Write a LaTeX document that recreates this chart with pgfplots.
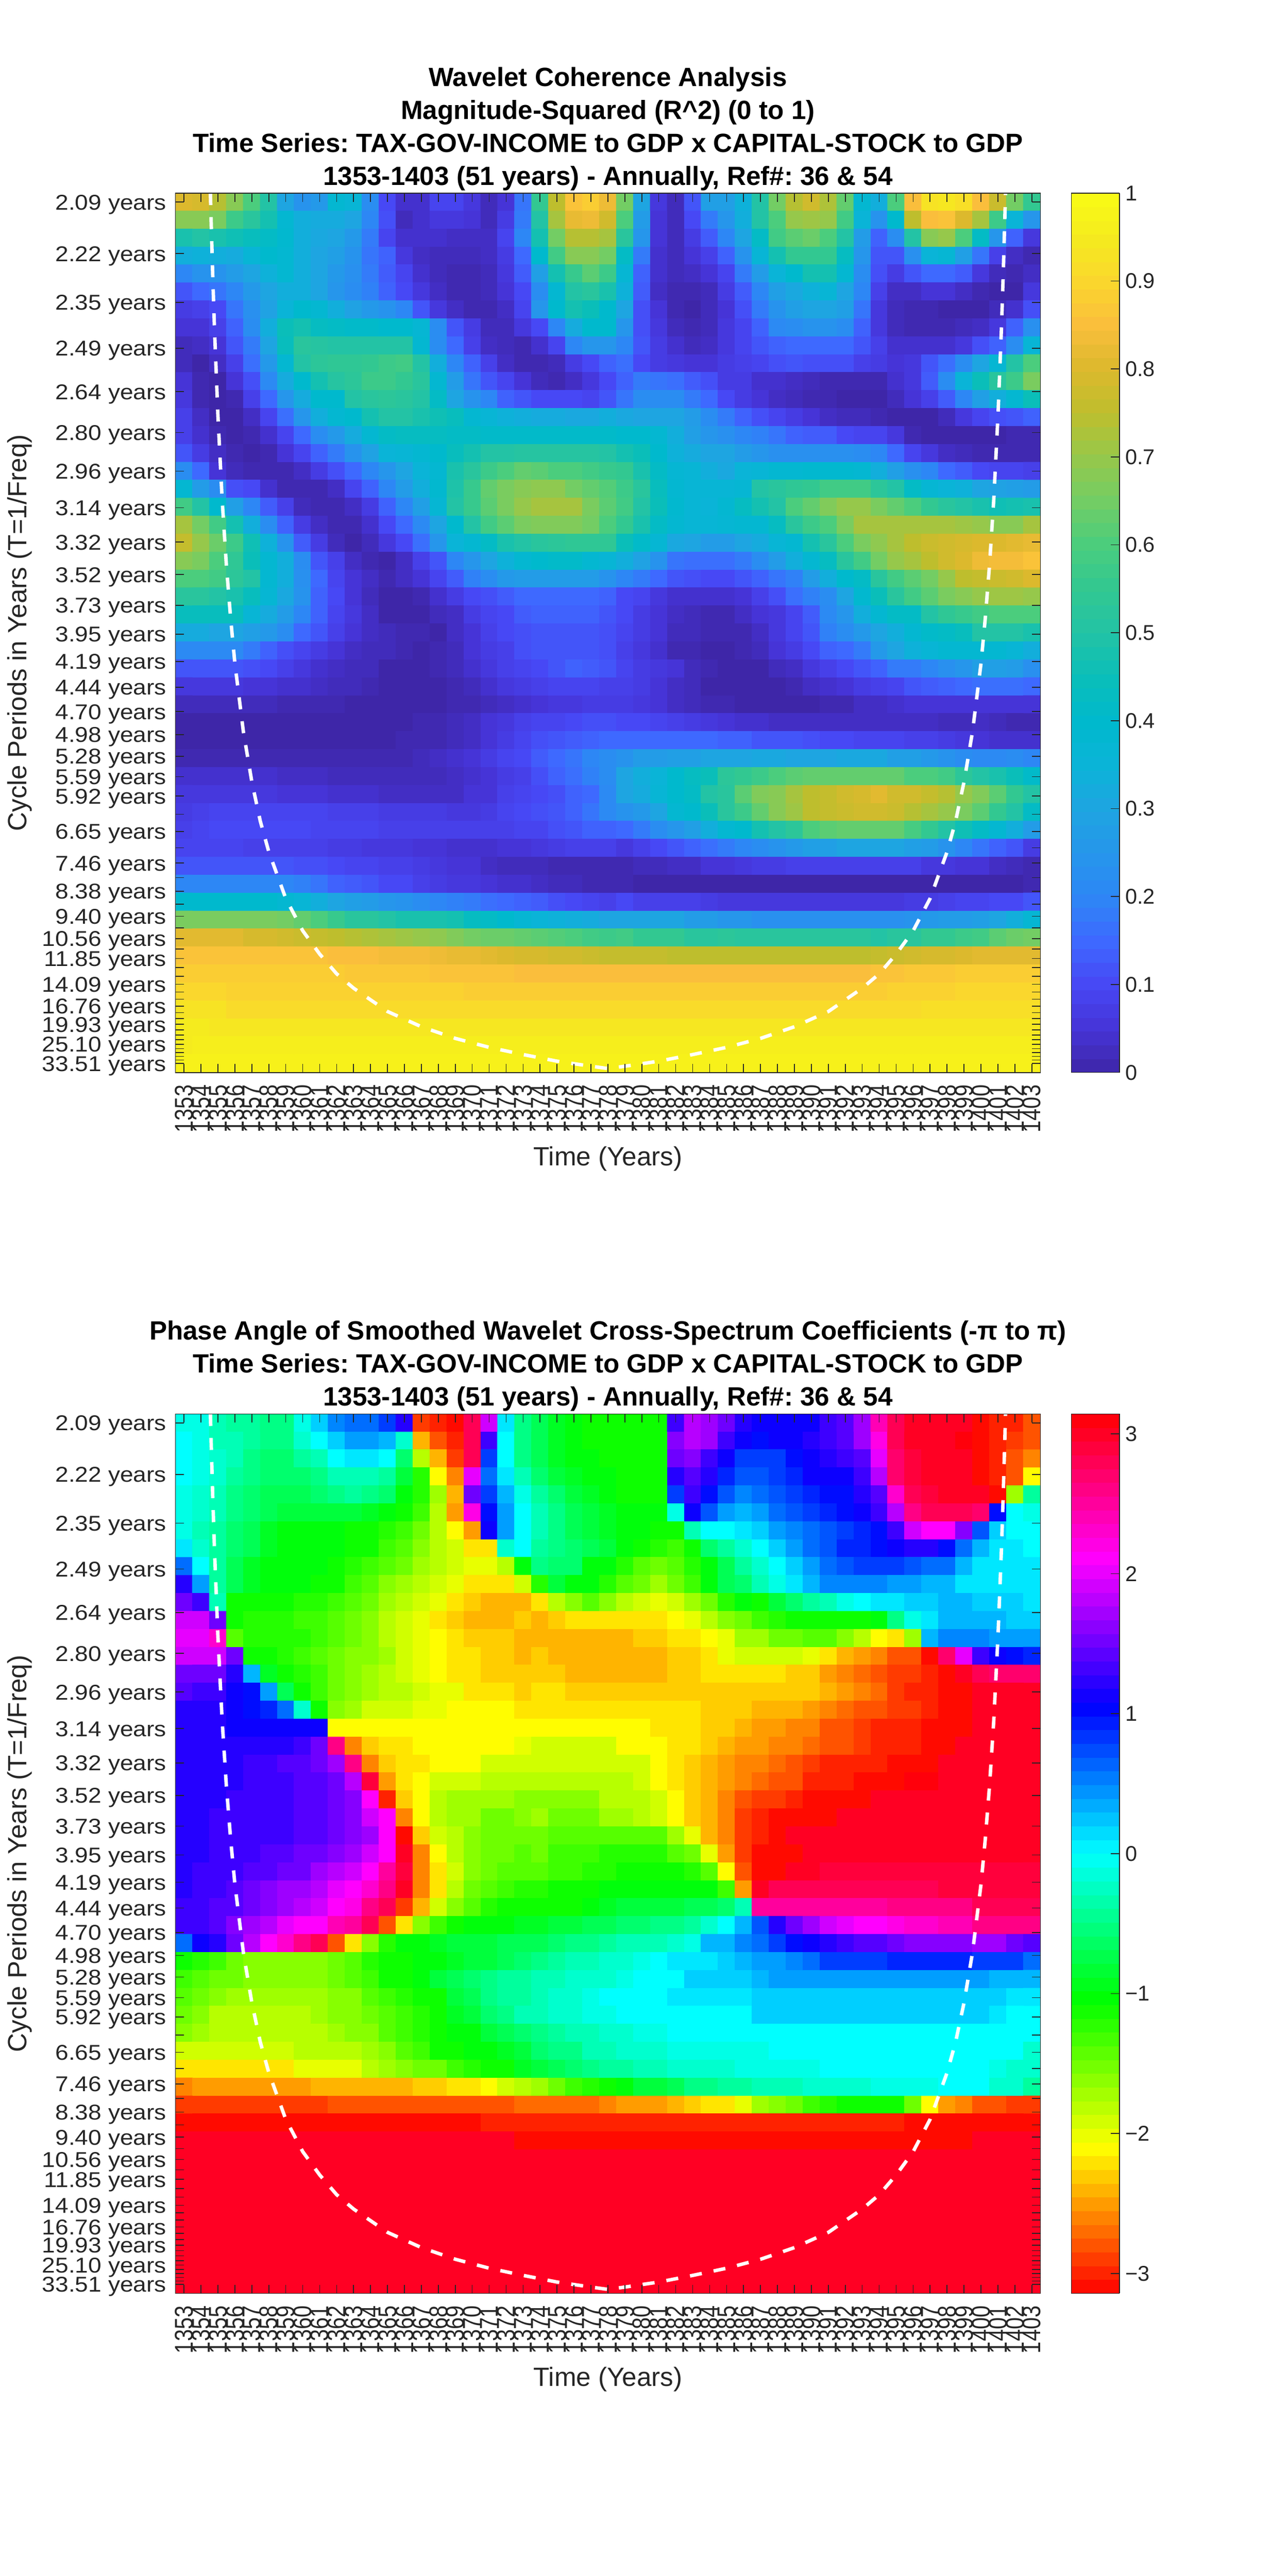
\documentclass[border=0pt]{standalone}
\usepackage{fontspec}
\setmainfont{Liberation Sans}
\newfontfamily\ylab[FakeStretch=1.11]{Liberation Sans}
\usepackage{graphicx}
\usepackage{pgfplots}
\pgfplotsset{compat=1.18}
\definecolor{axg}{RGB}{38,38,38}
\newcount\ci \newcount\ri \newtoks\mt
\def\sent{@}
\def\addval#1{\edef\tmpb{\the\ci\space\the\ri\space#1\noexpand\\}\mt=\expandafter{\the\expandafter\mt\tmpb}\advance\ci by 1 }
\def\padrow{\ifnum\ci<51 \expandafter\addval\expandafter{\last}\expandafter\padrow\fi}
\def\pv#1 {\def\tmp{#1}\ifx\tmp\sent\let\nx\padrow\else\ifnum\ci<51 \addval{#1}\fi\def\last{#1}\let\nx\pv\fi\nx}
\def\R#1{\ci=0 \pv#1 @ \advance\ri by 1 }
% coherence, hundredths; a row that stops short keeps its last value
\mt={}\ri=0
\R{80 79 74 68 60 50 30 24 26 38 36 22 10 4 4 9 9 6 2 5 17 55 75 86 88 83 65 30 6 2 12 28 28 34 50 65 74 78 73 63 38 33 60 85 93 94 92 85 77 65 55}
\R{68 68 66 57 52 47 38 33 32 32 30 20 11 2 4 6 6 5 2 7 18 50 72 82 83 78 60 27 5 2 10 18 25 33 50 60 70 71 70 58 35 24 40 75 85 86 80 72 57 35 25}
\R{48 50 48 46 44 42 39 33 31 30 26 18 9 4 4 4 3 3 3 9 20 47 65 74 74 72 52 25 5 2 7 13 20 30 42 58 62 64 60 50 27 14 22 50 68 70 60 42 25 14 6}
\R{33 34 33 32 36 40 38 33 30 28 24 17 14 6 3 2 2 2 3 7 15 40 58 68 68 65 42 18 4 2 5 8 14 24 36 47 55 55 55 43 25 12 12 23 35 37 28 17 8 3 1}
\R{20 24 24 27 30 34 38 33 30 26 23 18 13 9 4 2 1 1 2 6 13 28 47 56 62 57 37 14 4 2 3 5 9 18 27 35 40 47 47 38 22 11 7 12 15 15 13 6 2 1 3}
\R{12 15 17 20 26 30 33 33 30 25 22 19 14 10 6 3 1 1 2 5 10 22 38 50 52 48 34 13 3 1 1 2 7 13 20 28 31 34 36 30 20 8 3 3 5 5 3 1 0 0 6}
\R{7 8 10 17 23 29 35 40 38 33 29 26 24 20 12 6 3 1 1 3 9 25 40 47 45 40 30 11 5 1 0 2 5 11 18 24 28 30 30 28 17 6 2 1 1 0 0 0 2 4 11}
\R{5 5 8 14 22 33 45 47 43 42 41 41 40 40 37 22 12 7 2 2 6 10 20 32 40 40 25 11 6 2 1 2 6 9 14 21 22 24 24 22 14 6 2 1 1 1 2 3 6 14 23}
\R{2 3 5 12 18 30 44 52 51 50 50 50 50 50 38 22 15 8 3 2 1 4 9 20 25 25 20 12 7 4 2 3 6 9 12 14 15 15 15 15 12 8 4 4 4 4 6 11 14 22 36}
\R{2 0 3 8 16 26 38 50 53 54 54 55 57 58 50 33 20 14 8 3 1 1 2 7 10 14 16 10 7 6 5 5 7 8 9 11 12 11 11 11 8 7 5 6 12 16 22 30 37 50 60}
\R{5 1 0 5 11 21 32 40 47 51 53 57 57 55 52 38 27 17 12 9 5 2 1 3 6 10 14 18 17 16 13 11 7 7 4 4 3 2 1 1 1 1 4 6 13 22 35 45 52 57 66}
\R{6 1 0 1 8 15 25 32 40 40 50 52 53 52 50 42 30 24 20 14 12 10 10 10 9 12 17 22 22 22 18 15 10 7 5 3 2 1 1 0 0 0 2 5 8 13 20 28 33 38 45}
\R{8 3 0 0 3 9 16 25 33 38 40 47 50 50 48 46 44 38 36 34 33 32 32 31 31 33 31 30 30 30 27 22 18 14 11 9 7 5 3 2 2 1 0 0 0 2 6 9 11 12 14}
\R{8 4 1 0 1 4 9 15 22 26 32 38 42 43 43 43 42 42 41 41 41 41 41 41 41 41 40 40 38 33 28 25 23 20 19 17 14 13 13 10 9 9 6 1 0 0 0 0 0 1 1}
\R{12 7 3 1 0 1 5 9 14 18 24 29 35 36 38 40 44 47 50 50 51 51 51 51 51 50 47 45 40 34 32 30 30 27 25 23 23 23 23 23 22 20 15 9 6 3 2 1 1 1 1}
\R{22 15 5 2 1 1 1 3 7 11 15 20 25 30 35 38 48 52 57 60 63 62 60 60 58 56 55 48 42 37 36 33 31 35 36 38 38 39 39 39 38 33 28 23 20 15 13 10 9 9 8}
\R{38 27 22 11 10 4 1 1 1 3 9 14 20 27 33 39 49 56 63 66 68 69 69 65 63 61 57 52 44 38 36 36 36 37 50 52 54 55 58 58 58 53 50 42 37 35 34 30 29 28 27}
\R{58 50 40 28 20 13 8 2 1 1 3 7 14 20 28 37 50 56 62 66 70 72 72 72 66 62 58 50 45 39 36 35 38 43 47 50 60 63 67 70 70 66 63 60 55 52 50 48 46 47 48}
\R{72 65 58 47 33 22 14 7 3 1 1 4 10 15 21 30 40 50 58 62 66 67 67 67 65 60 55 48 42 38 36 36 37 38 38 43 52 57 60 66 72 72 72 72 72 72 71 70 68 68 72}
\R{76 70 64 57 46 34 24 13 7 2 0 2 6 10 16 25 35 38 42 48 50 52 53 54 54 54 45 41 37 31 30 27 27 30 32 36 38 47 52 60 66 69 72 75 77 78 79 80 80 81 82}
\R{68 66 60 54 45 38 33 22 12 8 3 1 0 3 8 12 20 25 30 34 38 40 41 41 38 36 33 29 24 17 16 16 16 18 22 27 33 38 43 52 58 65 70 72 75 78 80 83 84 84 86}
\R{60 60 58 53 50 38 33 23 15 9 5 3 1 3 5 9 13 19 22 26 27 27 27 27 27 24 20 18 15 12 11 10 10 12 14 17 19 27 33 40 42 52 58 62 65 70 75 76 77 78 80}
\R{52 52 50 48 44 37 31 24 14 10 5 2 0 0 1 4 7 10 11 13 15 15 15 15 15 14 10 9 6 4 4 4 4 5 8 11 16 19 22 30 39 45 52 58 62 66 68 70 71 71 70}
\R{44 44 44 44 36 32 27 20 14 9 6 3 0 0 0 2 3 7 9 10 13 14 14 14 14 12 10 7 5 3 2 1 1 3 5 6 9 13 21 25 33 38 42 42 50 54 56 58 60 60 60}
\R{32 32 30 30 28 26 22 15 12 8 5 3 2 1 1 0 3 5 8 10 11 12 12 12 12 11 9 7 5 2 2 1 1 1 3 6 9 12 19 22 26 30 33 38 41 42 44 50 50 50 48}
\R{21 21 21 21 18 14 11 9 7 5 3 2 2 1 0 1 2 5 7 8 11 12 12 12 12 11 8 6 4 1 1 0 0 1 2 5 7 10 14 15 18 26 30 34 36 38 38 38 38 36 33}
\R{12 12 12 12 11 10 8 6 4 3 2 2 0 0 0 1 2 4 6 8 9 10 12 14 13 12 9 7 6 5 2 1 0 0 0 2 3 6 8 10 12 14 18 18 20 23 25 28 28 27 23}
\R{6 6 6 6 5 5 4 4 3 2 2 1 0 0 0 0 1 2 4 6 7 8 9 9 9 8 8 7 5 3 2 0 0 0 0 0 1 3 4 5 7 8 9 12 13 14 15 16 16 16 15}
\R{2 2 2 2 2 2 1 1 1 1 0 0 0 0 0 0 1 1 2 3 4 5 6 6 7 7 7 6 5 3 2 1 1 0 0 0 0 0 1 1 3 3 4 5 5 5 5 5 5 5 5}
\R{0 0 0 0 0 0 0 0 0 0 0 0 0 0 1 1 2 3 5 6 8 9 9 10 11 11 10 10 9 8 7 6 5 4 4 3 3 3 3 3 3 3 3 3 3 2 2 3 2 1 1}
\R{0 0 0 0 0 0 0 0 0 0 0 0 0 1 1 1 2 3 5 7 9 11 12 13 14 15 15 15 15 15 15 15 14 14 12 12 12 11 10 10 9 9 9 8 8 7 6 5 4 4 4}
\R{1 1 1 1 1 1 1 1 1 1 1 1 1 1 2 3 4 5 7 9 10 13 15 17 20 22 24 27 27 28 28 30 30 30 31 31 30 30 30 31 31 31 28 28 26 24 22 21 21 22 20}
\R{4 4 4 4 4 4 3 3 3 2 2 2 2 2 2 2 3 4 5 7 8 11 14 16 19 22 30 33 35 40 43 45 53 55 57 60 62 63 63 63 63 63 63 60 60 58 53 50 48 45 41}
\R{6 6 6 6 6 6 5 5 5 4 4 4 3 3 3 3 3 5 5 8 9 10 11 14 15 21 30 32 36 40 42 50 52 62 67 68 72 75 76 78 79 81 78 78 76 74 70 67 62 55 50}
\R{7 8 9 9 9 9 9 9 9 8 8 8 7 7 7 7 6 6 7 9 10 11 12 14 17 21 24 26 30 38 40 45 52 57 63 68 71 75 76 77 78 78 77 74 72 70 66 62 55 50 42}
\R{8 9 10 10 10 10 10 10 9 9 9 9 8 8 8 8 8 8 8 8 9 9 11 12 14 14 15 18 22 25 28 33 38 40 47 50 53 60 62 63 63 63 63 59 55 50 46 42 38 33 27}
\R{9 9 9 9 8 8 8 8 8 7 7 6 6 6 5 5 4 4 4 5 5 6 7 8 8 8 6 8 10 12 14 16 18 20 22 24 26 28 28 30 30 30 30 28 27 24 20 17 14 12 7}
\R{12 12 12 12 12 12 12 11 11 10 9 9 8 8 7 6 5 5 3 2 2 2 1 1 1 1 1 2 2 3 3 5 5 6 7 7 8 8 8 8 8 8 8 8 6 6 5 5 3 2 1}
\R{20 20 20 20 20 20 20 19 17 14 13 12 10 10 8 7 6 6 5 4 4 3 2 2 1 1 1 0 0 0 0 0 0 0 0 0 0 0 0 0 0 0 0 0 0 0 0 0 0 0 1}
\R{40 40 40 40 40 40 38 36 33 30 28 27 25 24 22 20 19 18 16 15 14 13 11 10 9 8 10 8 8 8 8 7 6 6 6 6 6 6 6 6 6 6 6 7 7 8 9 9 10 10 12}
\R{66 66 66 66 66 66 65 63 60 56 52 52 50 48 48 48 47 43 42 40 37 35 34 33 32 30 30 30 30 30 27 27 25 25 23 23 23 23 23 23 23 23 23 24 26 27 27 28 30 33 37}
\R{81 81 81 81 79 79 78 77 76 75 74 73 72 71 70 69 67 65 64 64 63 62 61 60 58 57 58 55 55 55 52 52 53 52 52 52 52 52 52 52 52 50 52 52 55 55 57 58 62 64 65}
\R{86 86 86 86 86 86 86 86 86 85 85 85 84 84 84 83 82 82 81 80 79 79 78 78 77 76 76 76 76 75 75 75 75 75 75 75 75 75 75 75 75 76 77 78 79 79 80 81 81 81 81}
\R{88 88 88 88 88 88 88 88 88 88 87 87 87 87 87 86 86 86 86 86 85 85 85 85 85 85 85 85 85 85 85 85 85 85 85 85 85 85 85 85 85 86 86 87 87 87 88}
\R{90 90 90 89 89 89 89 89 89 89 89 89 89 89 89 89 89 88 88 88 88 88 88 88 88 88 88 88 88 88 88 88 88 88 88 88 88 88 88 88 88 88 89 89 89 89 90}
\R{93 93 93 91 91 91 91 91 91 91 91 91 91 91 91 91 91 91 91 91 91 91 91 91 91 91 91 91 91 91 91 91 91 91 91 91 91 91 91 91 91 91 91 91 92}
\R{95 95 94}
\R{95 96}
\R{97}
\edef\dataA{\the\mt}
% phase, tenths of a radian
\mt={}\ri=0
\R{-1 -1 -3 -4 -4 -5 -5 -1 2 5 6 6 8 12 -29 -30 -31 28 19 1 -5 -7 -9 -10 -11 -11 -11 -11 -11 13 18 17 15 12 11 11 11 11 13 14 17 24 28 30 30 30 30 -31 -30 -30 -28}
\R{0 -1 -3 -3 -4 -5 -5 -2 0 2 4 4 3 -2 -24 -28 -30 28 13 0 -5 -7 -9 -10 -11 -11 -11 -11 -11 16 18 17 13 11 10 11 11 12 13 14 17 22 28 30 30 30 31 -31 -30 -29 -28}
\R{0 -1 -2 -3 -5 -6 -6 -4 -3 0 1 1 0 -6 -18 -24 -29 28 8 0 -5 -7 -9 -10 -10 -11 -11 -11 -11 15 16 13 11 8 8 8 10 11 12 13 14 20 27 29 30 30 30 -31 -30 -28 -26}
\R{0 -1 -2 -4 -5 -6 -6 -6 -5 -3 -3 -3 -4 -8 -12 -21 -26 20 6 1 -3 -6 -8 -9 -10 -10 -11 -11 -11 12 14 12 9 7 7 8 9 11 11 11 13 18 27 29 30 30 30 -31 -30 -28 -21}
\R{-1 -2 -3 -5 -6 -7 -7 -7 -6 -5 -4 -5 -6 -10 -12 -17 -24 15 8 3 -1 -4 -6 -8 -9 -10 -11 -11 -11 8 13 10 7 5 6 7 8 9 10 10 12 14 23 28 29 30 30 30 -31 -17 -4}
\R{-1 -2 -3 -5 -6 -7 -8 -8 -8 -8 -8 -9 -10 -11 -13 -18 -25 22 10 4 0 -3 -5 -7 -8 -9 -10 -10 -10 -1 11 7 4 3 4 6 7 8 9 10 11 13 18 26 28 28 28 27 10 0 -1}
\R{-1 -3 -4 -6 -7 -9 -10 -10 -10 -10 -11 -11 -12 -13 -15 -18 -21 -25 11 4 0 -3 -5 -7 -8 -9 -10 -10 -11 -11 -3 0 0 1 2 4 5 6 7 8 9 10 13 19 21 21 16 7 2 0 0}
\R{1 -2 -4 -6 -7 -9 -10 -10 -10 -10 -11 -11 -13 -14 -16 -18 -19 -22 -22 -2 0 -4 -5 -6 -7 -8 -10 -11 -12 -13 -11 -6 -4 -2 0 2 4 6 7 9 9 10 11 12 12 10 6 3 1 1 0}
\R{6 0 -4 -7 -9 -10 -10 -10 -10 -11 -12 -13 -14 -15 -17 -18 -19 -20 -20 -18 -10 -5 -6 -6 -10 -10 -12 -14 -15 -14 -12 -10 -7 -4 -2 0 2 4 6 7 8 8 8 7 6 6 3 1 1 1 1}
\R{12 4 -4 -7 -9 -10 -10 -10 -11 -11 -13 -14 -16 -17 -18 -19 -20 -22 -22 -22 -19 -12 -8 -10 -10 -12 -14 -15 -17 -15 -13 -10 -7 -6 -3 -1 1 3 5 5 5 5 4 4 3 3 1 1 1 1 1}
\R{15 13 -3 -11 -11 -11 -11 -12 -12 -13 -14 -15 -17 -18 -19 -20 -22 -23 -24 -24 -24 -22 -18 -16 -14 -16 -18 -19 -20 -19 -17 -15 -12 -10 -11 -8 -6 -4 -3 -1 0 1 1 2 2 3 3 2 2 2 1}
\R{19 19 15 -11 -12 -12 -12 -13 -13 -14 -15 -16 -18 -19 -20 -22 -23 -24 -24 -24 -23 -24 -23 -22 -22 -22 -22 -22 -22 -21 -20 -18 -16 -15 -13 -12 -11 -11 -11 -11 -11 -10 -5 -1 1 3 3 3 3 2 2}
\R{20 20 23 -14 -12 -12 -12 -12 -13 -14 -15 -16 -18 -19 -20 -21 -22 -23 -23 -23 -24 -24 -24 -24 -24 -24 -24 -23 -23 -22 -22 -21 -20 -17 -17 -15 -15 -14 -14 -16 -18 -21 -22 -17 3 5 5 5 4 4 4}
\R{19 19 19 15 -11 -11 -12 -13 -14 -15 -16 -16 -17 -19 -20 -21 -22 -22 -23 -23 -24 -23 -24 -24 -24 -24 -24 -24 -24 -23 -23 -22 -20 -19 -19 -19 -19 -20 -22 -24 -25 -26 -28 -28 -31 27 20 13 11 10 9}
\R{15 15 15 12 3 -9 -11 -12 -13 -15 -16 -17 -18 -19 -20 -21 -22 -22 -23 -23 -23 -23 -23 -24 -24 -24 -24 -24 -24 -23 -23 -22 -22 -22 -22 -22 -23 -23 -25 -26 -27 -28 -29 -29 -30 -31 30 28 27 27 27}
\R{14 13 13 11 10 4 -7 -11 -13 -15 -16 -17 -18 -18 -19 -20 -20 -22 -22 -22 -23 -22 -22 -23 -23 -23 -23 -23 -23 -23 -23 -23 -23 -23 -23 -23 -23 -23 -24 -25 -26 -27 -29 -30 -30 -31 -31 30}
\R{12 12 12 11 10 9 6 -2 -11 -16 -17 -19 -19 -19 -20 -20 -21 -21 -21 -21 -22 -22 -22 -22 -22 -22 -22 -22 -22 -22 -22 -23 -23 -23 -24 -24 -24 -25 -26 -27 -28 -28 -29 -29 -30 -31 -31 30}
\R{12 12 12 11 11 11 11 11 11 -21 -21 -21 -21 -21 -21 -21 -21 -21 -21 -21 -21 -21 -21 -21 -21 -21 -21 -21 -22 -22 -22 -23 -23 -24 -25 -25 -26 -26 -28 -28 -29 -30 -30 -30 -31 -31 -31 30}
\R{12 12 12 12 12 12 12 13 15 26 -26 -23 -22 -22 -21 -21 -21 -21 -21 -21 -20 -19 -19 -19 -19 -19 -21 -21 -21 -22 -22 -23 -24 -25 -25 -26 -26 -27 -28 -28 -29 -30 -30 -30 -31 -31 30}
\R{12 12 12 12 13 13 14 14 15 17 26 -26 -23 -22 -22 -21 -21 -21 -19 -19 -19 -19 -19 -19 -19 -19 -19 -19 -21 -22 -23 -24 -25 -26 -26 -27 -28 -29 -30 -30 -30 -30 -31 -31 -31 30}
\R{12 12 12 12 13 13 13 14 14 15 18 29 -25 -22 -21 -19 -19 -19 -18 -18 -18 -18 -18 -18 -18 -18 -18 -19 -21 -22 -23 -24 -25 -26 -27 -28 -28 -30 -30 -30 -31 -31 -31 31 31 30}
\R{12 12 12 13 13 13 13 14 14 15 16 21 -30 -23 -21 -18 -17 -17 -17 -17 -16 -16 -16 -16 -16 -18 -18 -18 -19 -21 -23 -24 -26 -28 -29 -29 -30 -31 -31 -31 -31 30}
\R{12 12 13 13 13 13 13 14 14 15 16 19 21 -26 -21 -18 -17 -17 -15 -15 -16 -17 -15 -15 -15 -17 -17 -18 -19 -21 -23 -24 -26 -29 -30 -31 -31 -31 -31 30}
\R{12 12 13 13 13 13 13 14 14 15 16 17 21 -31 -23 -19 -18 -16 -15 -15 -15 -15 -14 -14 -14 -14 -14 -14 -14 -17 -20 -24 -26 -29 -30 -31 30}
\R{12 12 13 13 13 14 14 15 15 16 17 19 21 30 -26 -21 -18 -16 -15 -15 -14 -15 -13 -13 -13 -12 -12 -12 -12 -14 -15 -20 -25 -29 -31 -31 -31 30}
\R{12 13 13 13 14 14 15 15 17 18 19 21 25 29 -26 -22 -19 -16 -15 -14 -14 -14 -13 -13 -12 -12 -11 -11 -11 -11 -12 -14 -21 -28 -31 -31 30 30 29}
\R{12 13 13 14 15 16 17 17 18 20 21 23 26 30 -26 -22 -18 -15 -14 -13 -12 -12 -11 -11 -11 -10 -10 -10 -10 -10 -10 -10 -13 -25 30 28 28 28 28 28 28 28 28 28 28 29}
\R{13 13 14 14 15 16 17 18 19 21 22 26 28 -29 -24 -19 -16 -14 -12 -11 -11 -11 -11 -11 -10 -9 -8 -8 -8 -8 -7 -7 -6 -3 25 25 25 25 25 25 25 25 26 26 26 26 26 28}
\R{13 13 14 16 17 18 20 21 21 24 25 28 -28 -22 -16 -13 -11 -10 -10 -10 -9 -9 -8 -8 -7 -7 -6 -6 -5 -5 -4 -2 0 3 7 12 15 17 19 20 21 21 22 23 23 24 24 26}
\R{6 11 12 15 18 21 23 26 28 -28 -22 -16 -12 -10 -10 -9 -8 -8 -8 -7 -7 -7 -6 -5 -5 -4 -3 -3 -3 -2 -1 3 3 5 6 8 10 11 12 13 14 14 15 16 16 16 16 17 17 15 14}
\R{-11 -12 -13 -15 -16 -16 -16 -16 -16 -15 -14 -12 -11 -11 -10 -10 -9 -8 -8 -7 -6 -5 -4 -3 -3 -2 -2 -1 0 1 1 1 2 3 4 4 5 6 8 8 8 8 9 9 9 9 9 8 8 8 6}
\R{-13 -14 -15 -15 -16 -16 -16 -16 -16 -15 -14 -13 -11 -11 -10 -8 -7 -6 -5 -4 -4 -3 -3 -2 -2 -2 -1 0 0 0 2 2 2 2 3 4 4 4 4 4 4 4 4 4 4 4 4 4 3 3 3}
\R{-14 -15 -16 -17 -17 -17 -17 -17 -17 -16 -16 -14 -13 -12 -11 -11 -8 -7 -5 -4 -4 -3 -2 -2 -1 0 0 0 0 1 1 1 1 1 2 2 2 2 2 2 2 2 2 2 2 2 2 2 2 1 1}
\R{-15 -16 -18 -18 -18 -18 -18 -18 -17 -16 -16 -15 -14 -13 -12 -11 -9 -8 -6 -5 -3 -3 -2 -2 -1 -1 0 0 0 0 0 0 0 0 2 2 2 2 2 2 2 2 2 2 2 2 2 2 1 0 0}
\R{-16 -17 -18 -18 -18 -18 -18 -18 -18 -17 -16 -16 -14 -13 -12 -11 -10 -10 -8 -7 -6 -5 -4 -3 -3 -2 -2 -1 -1 0}
\R{-19 -19 -19 -19 -19 -19 -19 -18 -18 -18 -18 -17 -16 -14 -13 -11 -11 -10 -10 -9 -8 -6 -5 -5 -3 -3 -2 -2 -2 -1 -1 -1 -1 -1 -1 0 0 0 0 0 0 0 0 0 0 0 0 0 0 0 -2}
\R{-22 -22 -22 -22 -22 -22 -22 -20 -20 -20 -20 -18 -17 -16 -15 -15 -13 -12 -11 -11 -9 -8 -7 -6 -5 -4 -4 -3 -3 -2 -2 -2 -2 -1 -1 -1 -1 -1 0 0 0 0 0 0 0 0 0 0 -1 -2 -2}
\R{-26 -25 -25 -25 -25 -25 -25 -25 -24 -24 -24 -24 -24 -24 -23 -23 -22 -22 -21 -19 -18 -17 -15 -13 -12 -11 -10 -8 -8 -7 -5 -5 -4 -4 -3 -3 -3 -2 -2 -2 -2 -1 -1 -1 -1 0 0 0 -2 -2 -4}
\R{-29 -29 -29 -29 -29 -29 -29 -29 -29 -28 -28 -28 -28 -28 -28 -28 -28 -28 -28 -28 -27 -27 -27 -27 -27 -26 -25 -25 -25 -24 -23 -22 -22 -20 -17 -16 -15 -13 -12 -11 -11 -11 -11 -15 -21 -25 -26 -28 -28 -29}
\R{-31 -31 -31 -31 -31 -31 -31 -31 -31 -31 -31 -31 -31 -31 -31 -31 -31 -31 -30 -30 -30 -30 -30 -30 -30 -30 -30 -30 -30 -30 -30 -30 -30 -30 -30 -30 -30 -30 -30 -30 -30 -30 -30 -31}
\R{30 30 30 30 30 30 30 30 30 30 30 30 30 30 30 30 30 30 30 30 -31 -31 -31 -31 -31 -31 -31 -31 -31 -31 -31 -31 -31 -31 -31 -31 -31 -31 -31 -31 -31 -31 -31 -31 -31 -31 -31 30}
\R{30}\R{30}\R{30}\R{30}\R{30}\R{30}\R{30}\R{30}
\edef\dataB{\the\mt}
\pgfplotsset{
 wavelet/.style={
  scale only axis, width=524.75pt, height=533.6pt,
  xmin=1352.5, xmax=1403.5, ymin=-0.5, ymax=48.5, y dir=reverse,
  enlargelimits=false, axis on top,
  axis line style={axg,line width=0.5pt},
  every tick/.style={axg,line width=0.5pt},
  major tick length=5.25pt, tick align=inside,
  xtick={1353,1354,...,1403},
  xticklabel={\scalebox{1}[1.2]{\pgfmathprintnumber[1000 sep={},assume math mode=true,fixed]{\tick}}},
  ytick={0,2.874,5.586,8.146,10.562,12.844,14.996,17.028,18.946,20.756,22.465,24.078,25.6,27.037,28.393,29.673,30.881,32.022,33.098,34.114,35.073,35.978,36.832,37.639,38.4,39.118,39.797,40.437,41.04,41.611,42.149,42.657,43.137,43.589,44.016,44.42,44.8,45.159,45.498,45.818,46.12,46.406,46.674,46.928,47.168,47.394,47.608,47.81,48},
  yticklabels={2.09 years,2.22 years,2.35 years,2.49 years,2.64 years,2.80 years,2.96 years,3.14 years,3.32 years,3.52 years,3.73 years,3.95 years,4.19 years,4.44 years,4.70 years,4.98 years,5.28 years,5.59 years,5.92 years,,6.65 years,,7.46 years,,8.38 years,,9.40 years,,10.56 years,,11.85 years,,,14.09 years,,,16.76 years,,,19.93 years,,,,25.10 years,,,,,33.51 years},
  /pgf/number format/.cd,1000 sep={},assume math mode=true,/pgfplots/.cd,
  yticklabel style={font=\ylab\fontsize{13}{13}\selectfont,text=axg,xshift=-2pt,yshift=-1.5pt},
  xticklabel style={font=\fontsize{13}{13}\selectfont,text=axg,rotate=90,anchor=east,xshift=-4pt},
  xlabel={Time (Years)}, ylabel={Cycle Periods in Years (T=1/Freq)},
  every axis x label/.style={at={(axis description cs:0.5,-0.098)},anchor=center,font=\fontsize{16}{16}\selectfont,text=axg},
  every axis y label/.style={at={(axis description cs:-0.18,0.5)},anchor=center,rotate=90,font=\fontsize{16}{16}\selectfont,text=axg},
  title style={font=\fontsize{16}{20}\bfseries\selectfont,align=center,at={(axis description cs:0.5,1)},anchor=south,yshift=-8pt},
  colorbar sampled,
  colorbar shift/.style={xshift=18.75pt},
 },
 cbarstyle/.style={
  at={(parent axis.north east)}, anchor=north west,
  samples=65, width=29.25pt,
  axis line style={axg,line width=0.5pt},
  every tick/.style={axg,line width=0.5pt},
  major tick length=5.25pt, tick align=inside,
  ytick pos=right,
  yticklabel pos=right,
  yticklabel style={font=\fontsize{13}{13}\selectfont,text=axg},
 },
}
\begin{document}
\frenchspacing
\begin{tikzpicture}
\useasboundingbox (0,0) rectangle (781.25pt,1563pt);
\begin{axis}[wavelet, at={(106.5pt,912.25pt)}, anchor=south west,
  title={Wavelet Coherence Analysis\\Magnitude-Squared (R\^{}2) (0 to 1)\\Time Series: TAX-GOV-INCOME to GDP x CAPITAL-STOCK to GDP\\1353-1403 (51 years) - Annually, Ref\#: 36 \& 54},
  point meta min=0, point meta max=1,
  colormap={parulaish}{rgb255=(62,38,168) rgb255=(70,52,215) rgb255=(71,72,245) rgb255=(62,105,255) rgb255=(45,135,245) rgb255=(38,150,235) rgb255=(30,165,225) rgb255=(10,180,215) rgb255=(0,185,205) rgb255=(10,190,185) rgb255=(35,195,165) rgb255=(50,200,145) rgb255=(75,205,125) rgb255=(115,205,100) rgb255=(150,200,75) rgb255=(190,190,45) rgb255=(220,185,45) rgb255=(250,190,60) rgb255=(250,215,45) rgb255=(245,235,30) rgb255=(249,251,21)},
  colorbar style={cbarstyle, ytick={0,0.1,...,1}, yticklabels={0,0.1,0.2,0.3,0.4,0.5,0.6,0.7,0.8,0.9,1}},
]
\edef\plotA{\unexpanded{\addplot[matrix plot*,mesh/cols=51,point meta=explicit,draw=none] table[x expr=\thisrowno{0}+1353,y index=1,meta expr=\thisrowno{2}/100,row sep=\\,header=false]}{\unexpanded\expandafter{\dataA}};}
\plotA
\addplot[white,line width=2.1pt,dash pattern=on 7.3pt off 7.3pt,forget plot] coordinates {(1354.556,-0.5)(1354.6,1.06)(1354.7,4.3)(1354.8,7.14)(1355,11.9)(1355.25,16.6)(1355.5,20.25)(1355.75,23.2)(1356,25.7)(1356.5,29.5)(1357,32.3)(1357.5,34.5)(1358,36.2)(1359,38.8)(1360,40.6)(1361,41.9)(1362,43)(1363,43.8)(1365,45.1)(1367,45.95)(1369,46.6)(1371,47.1)(1373,47.5)(1375,47.87)(1377,48.15)(1378,48.28)(1379,48.15)(1381,47.87)(1383,47.5)(1385,47.1)(1387,46.6)(1389,45.95)(1391,45.1)(1393,43.8)(1394,43)(1395,41.9)(1396,40.6)(1397,38.8)(1398,36.2)(1398.5,34.5)(1399,32.3)(1399.5,29.5)(1400,25.7)(1400.25,23.2)(1400.5,20.25)(1400.75,16.6)(1401,11.9)(1401.2,7.14)(1401.3,4.3)(1401.4,1.06)(1401.444,-0.5)};
\end{axis}
\begin{axis}[wavelet, at={(106.5pt,171.5pt)}, anchor=south west,
  title={Phase Angle of Smoothed Wavelet Cross-Spectrum Coefficients (-π to π)\\Time Series: TAX-GOV-INCOME to GDP x CAPITAL-STOCK to GDP\\1353-1403 (51 years) - Annually, Ref\#: 36 \& 54},
  point meta min=-3.1416, point meta max=3.1416,
  colormap={phase}{rgb255=(255,0,0) rgb255=(255,255,0) rgb255=(0,255,0) rgb255=(0,255,255) rgb255=(0,0,255) rgb255=(255,0,255) rgb255=(255,0,0)},
  colorbar style={cbarstyle, ytick={-3,-2,-1,0,1,2,3}, yticklabels={−3,−2,−1,0,1,2,3}},
]
\edef\plotB{\unexpanded{\addplot[matrix plot*,mesh/cols=51,point meta=explicit,draw=none] table[x expr=\thisrowno{0}+1353,y index=1,meta expr=\thisrowno{2}/10,row sep=\\,header=false]}{\unexpanded\expandafter{\dataB}};}
\plotB
\addplot[white,line width=2.1pt,dash pattern=on 7.3pt off 7.3pt,forget plot] coordinates {(1354.556,-0.5)(1354.6,1.06)(1354.7,4.3)(1354.8,7.14)(1355,11.9)(1355.25,16.6)(1355.5,20.25)(1355.75,23.2)(1356,25.7)(1356.5,29.5)(1357,32.3)(1357.5,34.5)(1358,36.2)(1359,38.8)(1360,40.6)(1361,41.9)(1362,43)(1363,43.8)(1365,45.1)(1367,45.95)(1369,46.6)(1371,47.1)(1373,47.5)(1375,47.87)(1377,48.15)(1378,48.28)(1379,48.15)(1381,47.87)(1383,47.5)(1385,47.1)(1387,46.6)(1389,45.95)(1391,45.1)(1393,43.8)(1394,43)(1395,41.9)(1396,40.6)(1397,38.8)(1398,36.2)(1398.5,34.5)(1399,32.3)(1399.5,29.5)(1400,25.7)(1400.25,23.2)(1400.5,20.25)(1400.75,16.6)(1401,11.9)(1401.2,7.14)(1401.3,4.3)(1401.4,1.06)(1401.444,-0.5)};
\end{axis}
\end{tikzpicture}
\end{document}
